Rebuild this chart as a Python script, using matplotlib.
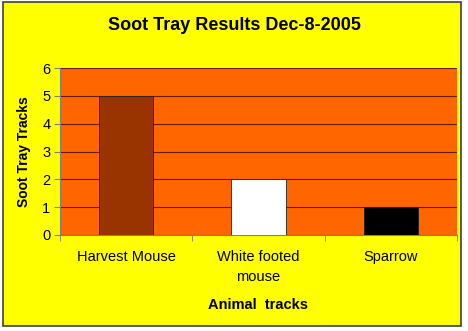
import numpy as np
import matplotlib.pyplot as plt
from matplotlib.patches import Rectangle

categories = ['Harvest Mouse', 'White footed\nmouse', 'Sparrow']
tracks = [5, 2, 1]
bar_colors = ['#993300', '#FFFFFF', '#000000']

plt.rcParams['font.family'] = ['Liberation Sans', 'DejaVu Sans']

fig = plt.figure(figsize=(4.68, 3.31), dpi=100)
fig.patch.set_facecolor('white')
# yellow chart area with dark border, kept behind the axes
fig.patches.append(Rectangle((3 / 468, 5 / 331), 458 / 468, 324 / 331,
                             transform=fig.transFigure, facecolor='#FFFF00',
                             edgecolor='#404040', linewidth=1.2, zorder=-10))

ax = fig.add_axes([60 / 468, 96 / 331, 397 / 468, 167 / 331])
ax.set_facecolor('#FF6600')

x = np.arange(len(categories))
ax.bar(x, tracks, width=0.41, color=bar_colors, edgecolor='#222222',
       linewidth=0.6, zorder=3)

ax.set_xlim(-0.5, 2.5)
ax.set_ylim(0, 6)
ax.set_yticks(range(0, 7))
ax.yaxis.grid(True, color='#6a1a00', linewidth=0.8, zorder=1)
ax.set_axisbelow(True)

ax.set_xticks(x)
ax.set_xticklabels(categories, fontsize=10.5, linespacing=1.55, va='top')
ax.set_xticks([-0.5, 0.5, 1.5, 2.5], minor=True)
ax.tick_params(axis='x', which='major', length=0, pad=11)
ax.tick_params(axis='x', which='minor', length=4, color='#808080', direction='out')
ax.tick_params(axis='y', length=4, color='#808080', labelsize=10.5, pad=3)

for s in ['top', 'right']:
    ax.spines[s].set_visible(False)
for s in ['left', 'bottom']:
    ax.spines[s].set_color('#808080')

ax.set_xlabel('Animal  tracks', fontsize=10.5, fontweight='bold', labelpad=10)
ax.set_ylabel('Soot Tray Tracks', fontsize=10, fontweight='bold', labelpad=8)
fig.text(0.5, 1 - 26 / 331, 'Soot Tray Results Dec-8-2005', ha='center',
         va='center', fontsize=13, fontweight='bold')

fig.savefig('out.png', dpi=100)
